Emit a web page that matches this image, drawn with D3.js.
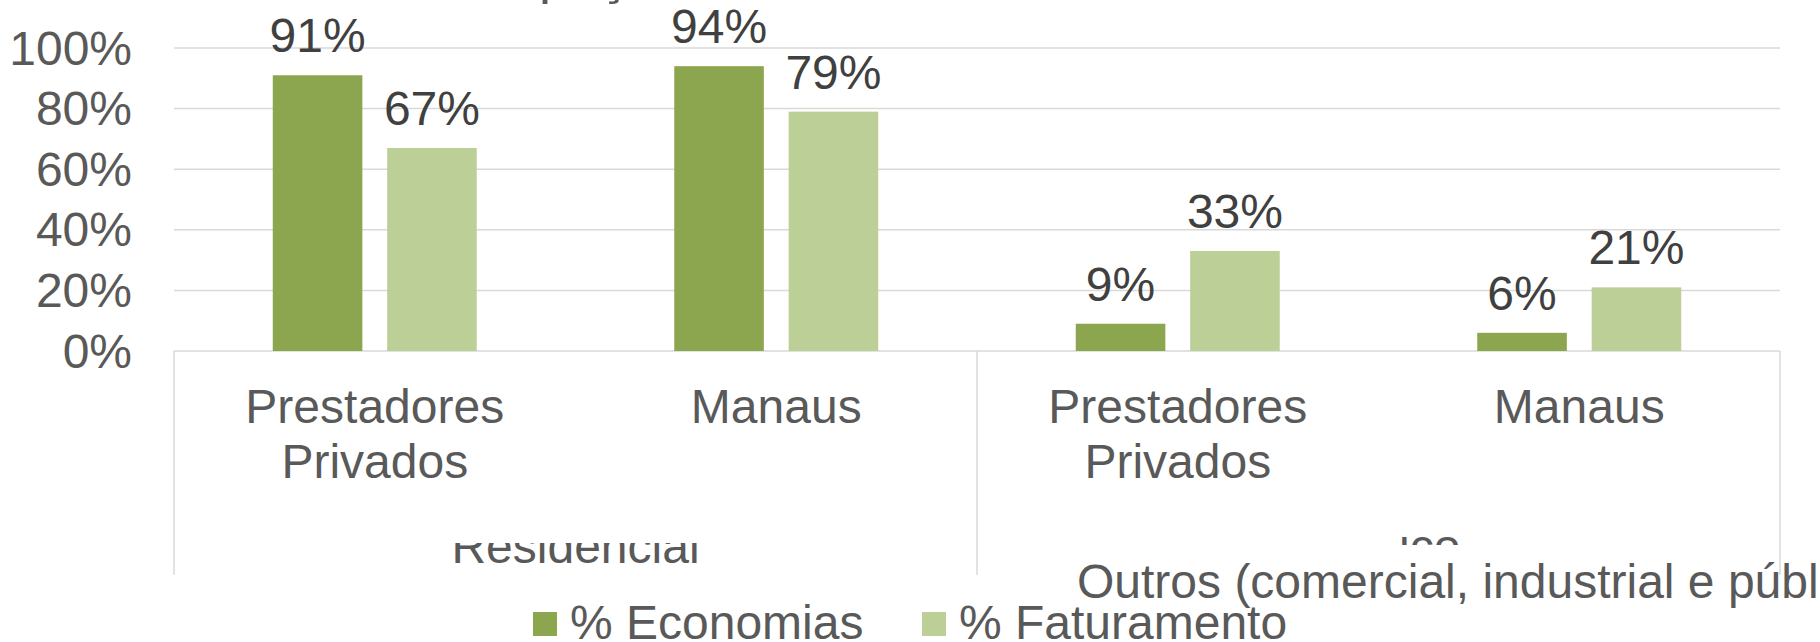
<!DOCTYPE html>
<html lang="pt">
<head>
  <meta charset="UTF-8">
  <title>Economias e Faturamento</title>
  <script src="https://d3js.org/d3.v7.min.js"></script>
  <style>
    body { margin: 0; padding: 0; background: #fff; overflow: hidden; }
    svg { display: block; font-family: "Liberation Sans", Arial, sans-serif; }
  </style>
</head>
<body>
  <script>
    // data
    var categories = ["Prestadores Privados", "Manaus", "Prestadores Privados", "Manaus"];
    var groups = ["Residencial", "Outros (comercial, industrial e públicos)"];
    var series = ["% Economias", "% Faturamento"];
    var economias = [0.91, 0.94, 0.09, 0.06];
    var faturamento = [0.67, 0.79, 0.33, 0.21];
    var yTicks = [0, 0.2, 0.4, 0.6, 0.8, 1];
    var colors = ["#8ba64e", "#bbcf97"];

    var W = 1820, H = 642;
    var plotLeft = 174, plotRight = 1780, plotTop = 48, plotBase = 351;

    var svg = d3.select("body").append("svg")
        .attr("width", W)
        .attr("height", H);

    var x0 = d3.scaleBand()
        .domain(d3.range(categories.length))
        .range([plotLeft, plotRight])
        .paddingInner(0.492)
        .paddingOuter(0.246);

    var x1 = d3.scaleBand()
        .domain(series)
        .range([0, x0.bandwidth()])
        .paddingInner(0.217);

    var y = d3.scaleLinear().domain([0, 1]).range([plotBase, plotTop]);

    var step = x0.step();
    var catStart = function(i) { return plotLeft + i * step; };

    // clipped title remnant at the very top
    svg.append("text")
        .attr("x", 389)
        .attr("y", -7)
        .attr("font-size", 54)
        .attr("fill", "#595959")
        .text("Participação");

    // gridlines
    svg.append("g")
      .selectAll("line")
      .data(yTicks)
      .enter().append("line")
        .attr("x1", plotLeft)
        .attr("x2", plotRight)
        .attr("y1", function(d) { return y(d); })
        .attr("y2", function(d) { return y(d); })
        .attr("stroke", "#d9d9d9")
        .attr("stroke-width", 1.5);

    // y tick labels
    svg.append("g")
      .selectAll("text")
      .data(yTicks)
      .enter().append("text")
        .attr("x", 132)
        .attr("y", function(d) { return y(d) + 16.5; })
        .attr("text-anchor", "end")
        .attr("font-size", 48)
        .attr("fill", "#595959")
        .text(d3.format(".0%"));

    // category separators (left, middle, right)
    var seps = [0, categories.length / 2, categories.length];
    svg.append("g")
      .selectAll("line")
      .data(seps)
      .enter().append("line")
        .attr("x1", function(d) { return catStart(d); })
        .attr("x2", function(d) { return catStart(d); })
        .attr("y1", plotBase)
        .attr("y2", 575)
        .attr("stroke", "#d9d9d9")
        .attr("stroke-width", 1.5);

    // bars
    var rows = categories.map(function(c, i) {
      return { i: i, values: [economias[i], faturamento[i]] };
    });

    var grp = svg.append("g")
      .selectAll("g")
      .data(rows)
      .enter().append("g")
        .attr("transform", function(d) { return "translate(" + x0(d.i) + ",0)"; });

    grp.selectAll("rect")
      .data(function(d) { return d.values.map(function(v, k) { return { k: k, v: v }; }); })
      .enter().append("rect")
        .attr("x", function(d) { return x1(series[d.k]); })
        .attr("y", function(d) { return y(d.v); })
        .attr("width", x1.bandwidth())
        .attr("height", function(d) { return plotBase - y(d.v); })
        .attr("fill", function(d) { return colors[d.k]; });

    grp.selectAll("text")
      .data(function(d) { return d.values.map(function(v, k) { return { k: k, v: v }; }); })
      .enter().append("text")
        .attr("x", function(d) { return x1(series[d.k]) + x1.bandwidth() / 2; })
        .attr("y", function(d) { return y(d.v) - 23; })
        .attr("text-anchor", "middle")
        .attr("font-size", 48)
        .attr("fill", "#404040")
        .text(function(d) { return d3.format(".0%")(d.v); });

    // category labels
    var cat = svg.append("g")
      .selectAll("text")
      .data(categories)
      .enter().append("text")
        .attr("text-anchor", "middle")
        .attr("font-size", 48)
        .attr("fill", "#595959");

    cat.selectAll("tspan")
      .data(function(d, i) {
        return d.split(" ").map(function(w) { return { w: w, i: i }; });
      })
      .enter().append("tspan")
        .attr("x", function(d) { return x0(d.i) + x0.bandwidth() / 2; })
        .attr("y", function(d, j) { return 423 + j * 55; })
        .text(function(d) { return d.w; });

    // group labels (partly clipped, as in the reference)
    var defs = svg.append("defs");
    defs.append("clipPath").attr("id", "clipRes")
      .append("rect").attr("x", 0).attr("y", 543).attr("width", W).attr("height", 40);
    defs.append("clipPath").attr("id", "clipFrag")
      .append("rect").attr("x", 0).attr("y", 537).attr("width", W).attr("height", 8);

    svg.append("text")
        .attr("clip-path", "url(#clipRes)")
        .attr("x", (catStart(0) + catStart(2)) / 2)
        .attr("y", 563)
        .attr("text-anchor", "middle")
        .attr("font-size", 48)
        .attr("fill", "#595959")
        .text(groups[0]);

    svg.append("text")
        .attr("clip-path", "url(#clipFrag)")
        .attr("x", 1399)
        .attr("y", 563)
        .attr("font-size", 48)
        .attr("fill", "#595959")
        .text("ico");

    // legend
    var legendX = [533, 922];
    var leg = svg.append("g")
      .selectAll("g")
      .data(series)
      .enter().append("g");

    leg.append("rect")
        .attr("x", function(d, i) { return legendX[i]; })
        .attr("y", 612)
        .attr("width", 24)
        .attr("height", 24)
        .attr("fill", function(d, i) { return colors[i]; });

    leg.append("text")
        .attr("x", function(d, i) { return legendX[i] + 37; })
        .attr("y", 639)
        .attr("font-size", 48)
        .attr("fill", "#595959")
        .text(function(d) { return d; });

    // overflowing second group label, drawn last as in the reference
    svg.append("text")
        .attr("x", 1077)
        .attr("y", 598)
        .attr("font-size", 48)
        .attr("fill", "#595959")
        .text(groups[1]);
  </script>
</body>
</html>
